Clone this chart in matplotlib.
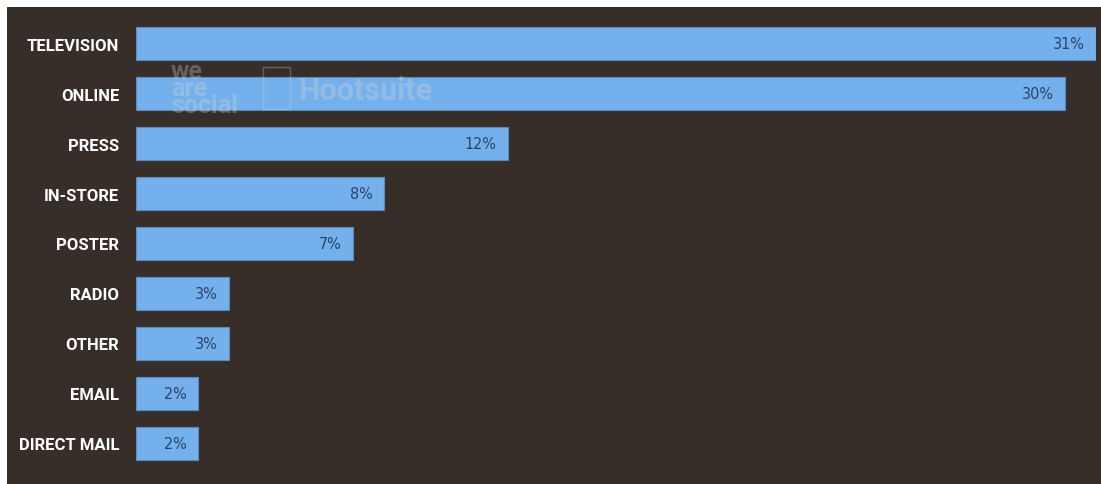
import matplotlib
matplotlib.use("Agg")
import matplotlib.pyplot as plt
from matplotlib.patches import Rectangle

# data
categories = ["TELEVISION", "ONLINE", "PRESS", "IN-STORE", "POSTER",
              "RADIO", "OTHER", "EMAIL", "DIRECT MAIL"]
shares = [31, 30, 12, 8, 7, 3, 3, 2, 2]
labels = ["31%", "30%", "12%", "8%", "7%", "3%", "3%", "2%", "2%"]

BG = "#372e29"
BAR = "#74b0ec"
VALUE_COL = "#28436b"

W, H = 1101, 485
fig = plt.figure(figsize=(W / 100, H / 100), dpi=100)
fig.patch.set_facecolor("white")

# dark panel with a thin white margin on top and left
fig.patches.append(Rectangle((7 / W, 0), 1 - 7 / W, (H - 8) / H,
                             transform=fig.transFigure, facecolor=BG,
                             edgecolor="none", zorder=-5))

left, right = 136, 1096
top, bottom = 20, 469
ax = fig.add_axes([left / W, 1 - bottom / H, (right - left) / W, (bottom - top) / H])
ax.set_facecolor("none")

y = list(range(len(categories)))
ax.barh(y, shares, height=0.66, color=BAR, edgecolor="#5a8cc0", linewidth=0.8)
ax.set_xlim(0, 31)
ax.set_ylim(len(categories) - 0.5, -0.5)

for yi, v, lab in zip(y, shares, labels):
    ax.text(v - 0.35, yi, lab, ha="right", va="center", color=VALUE_COL,
            fontsize=11.5, fontstretch="condensed",
            family=["DejaVu Sans"])

ax.set_yticks(y)
ax.set_yticklabels(categories, color="white", fontsize=12,
                   fontweight="bold", family=["Roboto", "DejaVu Sans"])
ax.tick_params(axis="y", length=0, pad=12)
ax.set_xticks([])
for s in ax.spines.values():
    s.set_visible(False)

# faint watermark
wm = dict(color="#d8d8d8", alpha=0.3, fontweight="bold",
          family=["Roboto", "DejaVu Sans"], zorder=10)
fig.text(171 / W, 1 - 89 / H, "we\nare\nsocial", fontsize=18, ha="left",
         va="center", linespacing=0.62, **wm)
fig.text(298 / W, 1 - 91 / H, "Hootsuite", fontsize=22, ha="left",
         va="center", **wm)
fig.patches.append(Rectangle((263 / W, 1 - 110 / H), 27 / W, 42 / H,
                             transform=fig.transFigure, facecolor="none",
                             edgecolor="#d8d8d8", alpha=0.3, linewidth=1,
                             zorder=10))

fig.savefig("out.png", dpi=100, facecolor=fig.get_facecolor())
